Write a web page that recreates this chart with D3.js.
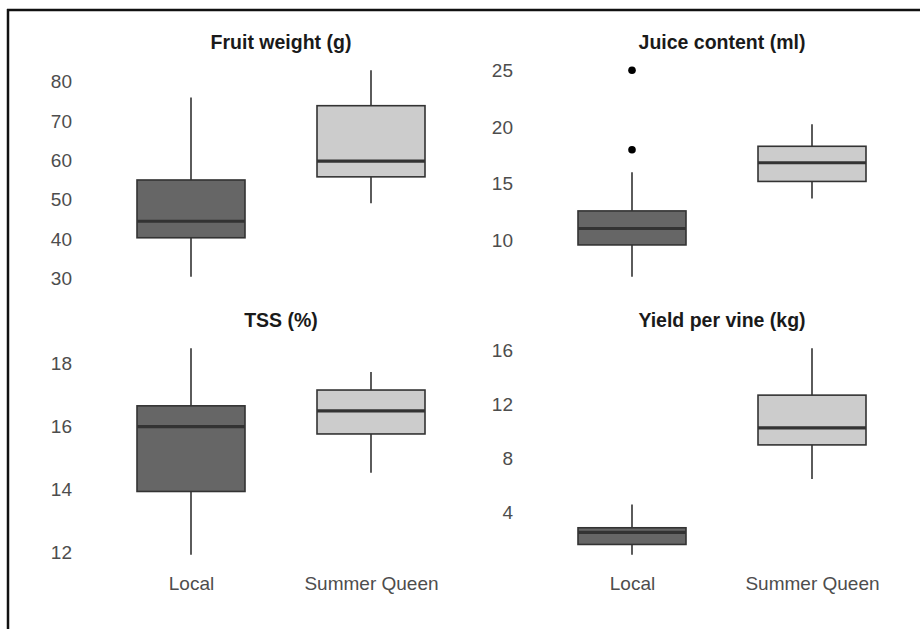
<!DOCTYPE html>
<html>
<head>
<meta charset="utf-8">
<script src="https://cdn.jsdelivr.net/npm/d3@7"></script>
<style>
  body { margin: 0; background: #fff; }
  svg { display: block; }
</style>
</head>
<body>
<div id="chart"></div>
<script>
// Groups shown on every panel
const groups = ['Local', 'Summer Queen'];

// Box statistics: [whisker low, Q1, median, Q3, whisker high]
const fruitWeight = [[30.4, 40.3, 44.5, 55.0, 76.0], [49.1, 55.8, 59.8, 73.9, 82.9]];
const juiceContent = [[6.8, 9.6, 11.05, 12.6, 16.0], [13.7, 15.2, 16.85, 18.3, 20.25]];
const tss = [[11.94, 13.94, 15.99, 16.65, 18.47], [14.53, 15.76, 16.49, 17.15, 17.72]];
const yieldPerVine = [[0.84, 1.6, 2.5, 2.84, 4.57], [6.47, 9.0, 10.27, 12.7, 16.18]];

// Outliers (group index, value)
const juiceOutliers = [[0, 18.0], [0, 25.0]];

// Tick labels
const fruitTicks = [30, 40, 50, 60, 70, 80];
const juiceTicks = [10, 15, 20, 25];
const tssTicks = [12, 14, 16, 18];
const yieldTicks = [4, 8, 12, 16];

const panels = [
    { title: 'Fruit weight (g)', stats: fruitWeight, outliers: [], ticks: fruitTicks, col: 0, row: 0 },
    { title: 'Juice content (ml)', stats: juiceContent, outliers: juiceOutliers, ticks: juiceTicks, col: 1, row: 0 },
    { title: 'TSS (%)', stats: tss, outliers: [], ticks: tssTicks, col: 0, row: 1 },
    { title: 'Yield per vine (kg)', stats: yieldPerVine, outliers: [], ticks: yieldTicks, col: 1, row: 1 }
];

const width = 920, height = 629;
const colLeft = [83, 524];
const rowTop = [60, 338];
const plotW = 396, plotH = 227;
const fills = ['#666666', '#cccccc'];
const lineColor = '#333333';
const font = '"Liberation Sans", Arial, sans-serif';

const svg = d3.select('#chart')
    .append('svg')
    .attr('width', width)
    .attr('height', height);

// Frame (top and left edges only, as in the cropped figure)
svg.append('line')
    .attr('x1', 7).attr('x2', width)
    .attr('y1', 10).attr('y2', 10)
    .attr('stroke', '#111').attr('stroke-width', 2.5);
svg.append('line')
    .attr('x1', 8).attr('x2', 8)
    .attr('y1', 9).attr('y2', height)
    .attr('stroke', '#111').attr('stroke-width', 2.5);

panels.forEach(p => {
    const left = colLeft[p.col];
    const top = rowTop[p.row];
    const g = svg.append('g').attr('transform', `translate(${left},${top})`);

    const xScale = d3.scalePoint()
        .domain(groups)
        .range([0, plotW])
        .padding(0.6);
    const boxW = xScale.step() * 0.6;

    // y domain: data range expanded by 5% each side
    const allVals = p.stats.flat().concat(p.outliers.map(o => o[1]));
    const lo = d3.min(allVals), hi = d3.max(allVals);
    const pad = (hi - lo) * 0.05;
    const yScale = d3.scaleLinear()
        .domain([lo - pad, hi + pad])
        .range([plotH, 0]);

    // Y axis (labels only)
    const yAxis = g.append('g')
        .call(d3.axisLeft(yScale).tickValues(p.ticks).tickSize(0).tickPadding(11));
    yAxis.select('.domain').remove();
    yAxis.selectAll('text')
        .style('font-family', font)
        .style('font-size', '19px')
        .style('fill', '#4d4d4d');

    // X axis labels on bottom row
    if (p.row === 1) {
        const xAxis = g.append('g')
            .attr('transform', `translate(0,${plotH})`)
            .call(d3.axisBottom(xScale).tickSize(0).tickPadding(12));
        xAxis.select('.domain').remove();
        xAxis.selectAll('text')
            .style('font-family', font)
            .style('font-size', '19px')
            .style('fill', '#4d4d4d');
    }

    // Title
    g.append('text')
        .attr('x', plotW / 2)
        .attr('y', -11)
        .attr('text-anchor', 'middle')
        .style('font-family', font)
        .style('font-size', '19.5px')
        .style('font-weight', 'bold')
        .style('fill', '#1a1a1a')
        .text(p.title);

    const boxes = g.selectAll('.box')
        .data(p.stats.map((s, i) => ({ group: groups[i], s: s, i: i })))
        .enter()
        .append('g')
        .attr('class', 'box');

    // Whiskers
    boxes.append('line')
        .attr('x1', d => xScale(d.group)).attr('x2', d => xScale(d.group))
        .attr('y1', d => yScale(d.s[0])).attr('y2', d => yScale(d.s[1]))
        .attr('stroke', lineColor).attr('stroke-width', 1.6);
    boxes.append('line')
        .attr('x1', d => xScale(d.group)).attr('x2', d => xScale(d.group))
        .attr('y1', d => yScale(d.s[3])).attr('y2', d => yScale(d.s[4]))
        .attr('stroke', lineColor).attr('stroke-width', 1.6);

    // Box
    boxes.append('rect')
        .attr('x', d => xScale(d.group) - boxW / 2)
        .attr('y', d => yScale(d.s[3]))
        .attr('width', boxW)
        .attr('height', d => yScale(d.s[1]) - yScale(d.s[3]))
        .attr('fill', d => fills[d.i])
        .attr('stroke', lineColor)
        .attr('stroke-width', 1.6);

    // Median
    boxes.append('line')
        .attr('x1', d => xScale(d.group) - boxW / 2)
        .attr('x2', d => xScale(d.group) + boxW / 2)
        .attr('y1', d => yScale(d.s[2])).attr('y2', d => yScale(d.s[2]))
        .attr('stroke', lineColor).attr('stroke-width', 3.2);

    // Outliers
    g.selectAll('.outlier')
        .data(p.outliers)
        .enter()
        .append('circle')
        .attr('class', 'outlier')
        .attr('cx', d => xScale(groups[d[0]]))
        .attr('cy', d => yScale(d[1]))
        .attr('r', 3.8)
        .attr('fill', '#000');
});
</script>
</body>
</html>
